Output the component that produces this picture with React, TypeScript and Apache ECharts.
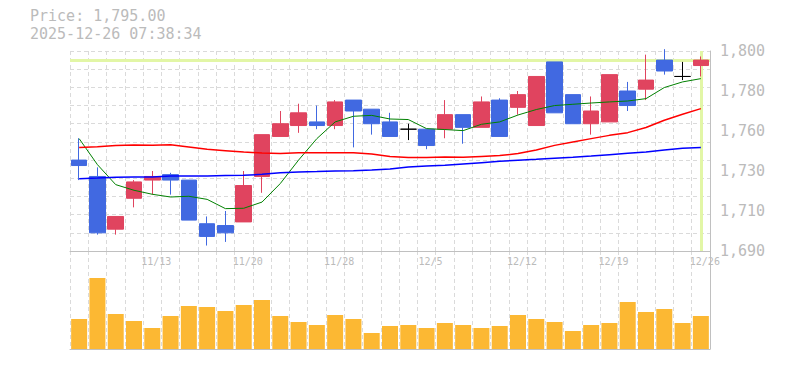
import React, { useEffect, useRef } from "react";
import * as echarts from "echarts";

const dates = [
  "11/7", "11/10", "11/11", "11/12", "11/13", "11/14", "11/17", "11/18", "11/19", "11/20",
  "11/21", "11/25", "11/26", "11/27", "11/28", "12/1", "12/2", "12/3", "12/4", "12/5",
  "12/8", "12/9", "12/10", "12/11", "12/12", "12/15", "12/16", "12/17", "12/18", "12/19",
  "12/22", "12/23", "12/24", "12/25", "12/26",
];

const opens = [
  1740, 1731, 1702, 1719, 1729, 1732, 1729, 1705, 1704, 1706,
  1731, 1753, 1759, 1761, 1759, 1773, 1768, 1761, 1757, 1757,
  1757, 1765, 1758, 1773, 1769, 1759, 1794, 1776, 1760, 1761,
  1778, 1779, 1795, 1786, 1792,
];
const closes = [
  1737, 1700, 1709, 1728, 1731, 1729, 1707, 1698, 1700, 1726,
  1754, 1760, 1766, 1759, 1772, 1767, 1760, 1753, 1757, 1748,
  1765, 1758, 1772, 1753, 1776, 1786, 1766, 1760, 1767, 1787,
  1770, 1784, 1789, 1786, 1795,
];
const lows = [
  1729, 1699, 1699, 1714, 1721, 1721, 1707, 1693, 1695, 1706,
  1722, 1753, 1755, 1757, 1757, 1747, 1754, 1753, 1751, 1746,
  1752, 1749, 1758, 1753, 1765, 1759, 1766, 1760, 1754, 1761,
  1767, 1773, 1787, 1784, 1786,
];
const highs = [
  1752, 1736, 1709, 1729, 1734, 1733, 1729, 1709, 1712, 1734,
  1754, 1767, 1771, 1770, 1773, 1773, 1768, 1766, 1760, 1757,
  1773, 1765, 1775, 1774, 1778, 1786, 1794, 1776, 1775, 1787,
  1783, 1798, 1801, 1794, 1797,
];

const ma5 = [
  1751.8, 1737.5, 1726.5, 1723.4, 1721.2, 1719.7, 1720.1, 1718.4, 1713.3, 1713.5,
  1716.9, 1727.1, 1740.0, 1751.8, 1761.0, 1764.1, 1764.6, 1762.6, 1762.3, 1757.3,
  1756.8, 1756.2, 1759.7, 1761.0, 1764.8, 1767.8, 1770.0, 1770.7, 1771.4, 1772.0,
  1772.5, 1773.8, 1779.9, 1783.0, 1784.8,
];
const ma25 = [
  1746.9, 1747.4, 1748.0, 1748.3, 1748.1, 1748.5, 1747.2, 1745.9, 1745.2, 1744.5,
  1743.9, 1743.6, 1744.1, 1744.1, 1744.1, 1744.1, 1743.4, 1742.0, 1741.4, 1741.4,
  1741.7, 1741.5, 1742.0, 1742.5, 1743.6, 1745.6, 1748.1, 1750.0, 1751.8, 1753.6,
  1755.1, 1757.9, 1761.9, 1765.2, 1768.3,
];
const ma75 = [
  1729.8, 1730.1, 1730.5, 1730.7, 1730.7, 1731.2, 1731.2, 1731.2, 1731.5, 1731.6,
  1732.2, 1733.0, 1733.5, 1733.7, 1734.0, 1734.2, 1734.6, 1735.1, 1736.2, 1736.7,
  1737.1, 1737.9, 1738.6, 1739.3, 1739.9, 1740.4, 1741.0, 1741.5, 1742.2, 1743.0,
  1743.7, 1744.4, 1745.6, 1746.5, 1746.9,
];

const volumes = [
  30000, 71000, 35000, 28000, 21000, 33000, 43000, 42000, 38000, 44000,
  49000, 33000, 27000, 24000, 34000, 30000, 16000, 23000, 24000, 21000,
  26000, 24000, 21000, 23000, 34000, 30000, 27000, 18000, 24000, 26000,
  47000, 37000, 40000, 26000, 33000,
];

const currentPrice = 1795;
const priceLabel = "Price: 1,795.00";
const timeLabel = "2025-12-26 07:38:34";

const priceMin = 1690;
const priceMax = 1800;
const labelStep = 22;
const gridStep = 10;
const volumeMax = 98000;

const MONO = "DejaVu Sans Mono";
const TEXT_GRAY = "#bbbbbb";
const AXIS_GRAY = "#c0c0c0";
const GRID_GRAY = "#dadada";
const UP = "#e0445f";
const DOWN = "#4169e1";
const HILITE = "#e2f6a6";

export default function App() {
  const ref = useRef<HTMLDivElement>(null);

  useEffect(() => {
    if (!ref.current) return;
    const chart = echarts.init(ref.current, undefined, { renderer: "svg" });
    const last = dates.length - 1;
    const candleData = dates.map((_, i) => [opens[i], closes[i], lows[i], highs[i]]);
    const split = { show: true, interval: 0, lineStyle: { color: GRID_GRAY, type: [4, 3], width: 1 } };
    const titleText = {
      fontFamily: MONO,
      fontSize: 15,
      fontWeight: "normal",
      color: TEXT_GRAY,
      lineHeight: 15,
    };

    chart.setOption({
      animation: false,
      backgroundColor: "#ffffff",
      title: [
        { text: priceLabel, left: 30, top: 8, padding: 0, textStyle: titleText },
        { text: timeLabel, left: 30, top: 26, padding: 0, textStyle: titleText },
      ],
      grid: [
        { left: 70, right: 75, top: 51, height: 200 },
        { left: 70, right: 75, top: 251, height: 98 },
      ],
      xAxis: [
        {
          type: "category",
          gridIndex: 0,
          data: dates,
          boundaryGap: true,
          axisLine: { show: true, lineStyle: { color: AXIS_GRAY, width: 1 } },
          axisTick: { show: false },
          axisLabel: {
            show: true,
            interval: (index: number) => (last - index) % 5 === 0,
            color: TEXT_GRAY,
            fontFamily: MONO,
            fontSize: 10,
            margin: 5,
            padding: [0, 0, 0, 8],
            hideOverlap: false,
          },
          splitLine: split,
        },
        {
          type: "category",
          gridIndex: 1,
          data: dates,
          boundaryGap: true,
          axisLine: { show: true, lineStyle: { color: AXIS_GRAY, width: 1 } },
          axisTick: { show: false },
          axisLabel: { show: false },
          splitLine: split,
        },
      ],
      yAxis: [
        {
          type: "value",
          gridIndex: 0,
          position: "right",
          min: priceMin,
          max: priceMax,
          interval: labelStep,
          axisLine: { show: true, lineStyle: { color: AXIS_GRAY, width: 1 } },
          axisTick: { show: false },
          splitLine: { show: false },
          axisLabel: {
            color: TEXT_GRAY,
            fontFamily: MONO,
            fontSize: 15,
            margin: 10,
            formatter: (v: number) => (Math.round(v / 10) * 10).toLocaleString("en-US"),
          },
        },
        {
          type: "value",
          gridIndex: 0,
          position: "left",
          min: priceMin,
          max: priceMax,
          interval: gridStep,
          axisLine: { show: false },
          axisTick: { show: false },
          axisLabel: { show: false },
          splitLine: { show: true, lineStyle: { color: GRID_GRAY, type: [4, 3], width: 1 } },
        },
        {
          type: "value",
          gridIndex: 1,
          position: "right",
          min: 0,
          max: volumeMax,
          axisLine: { show: true, lineStyle: { color: AXIS_GRAY, width: 1 } },
          axisTick: { show: false },
          axisLabel: { show: false },
          splitLine: { show: false },
        },
      ],
      series: [
        {
          name: "Price",
          type: "candlestick",
          xAxisIndex: 0,
          yAxisIndex: 0,
          data: candleData,
          barWidth: 16,
          z: 3,
          itemStyle: {
            color: UP,
            color0: DOWN,
            borderColor: UP,
            borderColor0: DOWN,
            borderColorDoji: "#000000",
            borderWidth: 1,
          },
          markLine: {
            silent: true,
            symbol: ["none", "none"],
            z: 1,
            label: { show: false },
            lineStyle: { color: HILITE, width: 3, type: "solid" },
            data: [{ yAxis: currentPrice }, { xAxis: dates[last] }],
          },
        },
        {
          name: "MA5",
          type: "line",
          xAxisIndex: 0,
          yAxisIndex: 0,
          data: ma5,
          showSymbol: false,
          z: 4,
          lineStyle: { color: "#008000", width: 1 },
        },
        {
          name: "MA25",
          type: "line",
          xAxisIndex: 0,
          yAxisIndex: 0,
          data: ma25,
          showSymbol: false,
          z: 4,
          lineStyle: { color: "#ff0000", width: 1.5 },
        },
        {
          name: "MA75",
          type: "line",
          xAxisIndex: 0,
          yAxisIndex: 0,
          data: ma75,
          showSymbol: false,
          z: 4,
          lineStyle: { color: "#0000ff", width: 1.5 },
        },
        {
          name: "Volume",
          type: "bar",
          xAxisIndex: 1,
          yAxisIndex: 2,
          data: volumes,
          barWidth: 16,
          itemStyle: { color: "#fcb833" },
        },
      ],
    });

    return () => chart.dispose();
  }, []);

  return (
    <div
      ref={ref}
      style={{ position: "fixed", left: 0, top: 0, width: 785, height: 370, background: "#fff" }}
    />
  );
}
